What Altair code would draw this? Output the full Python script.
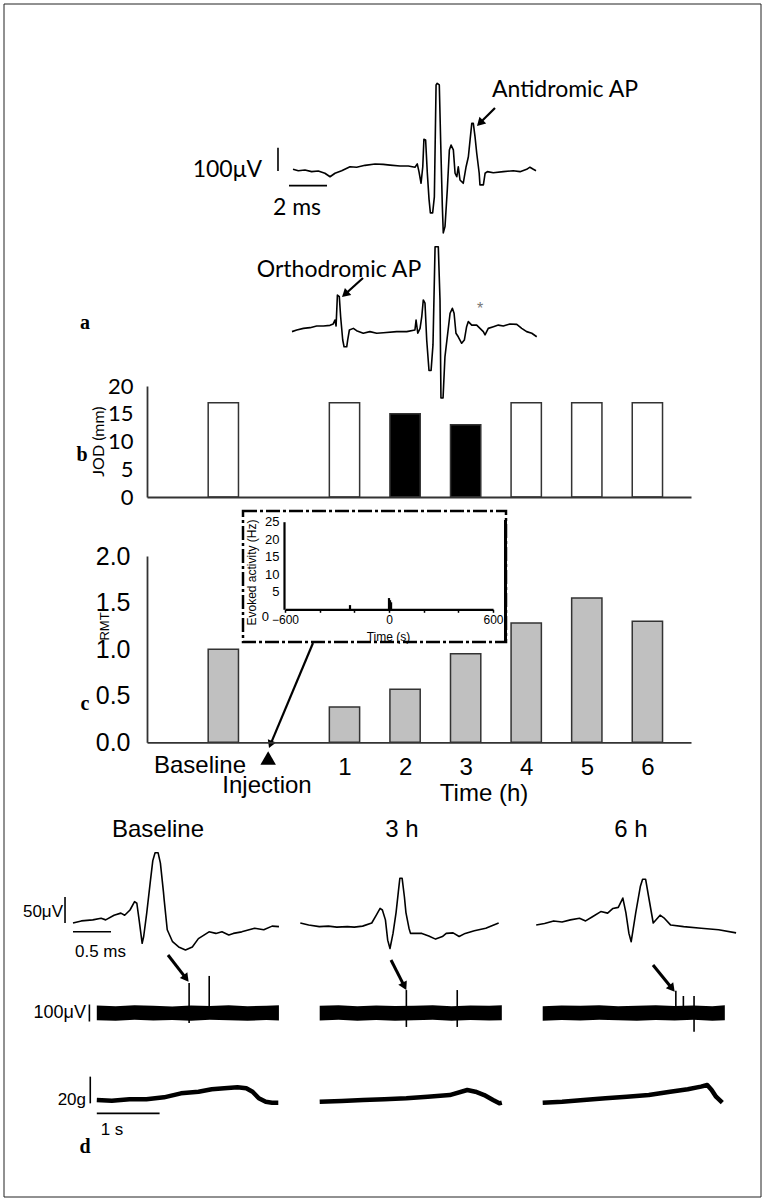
import math
import altair as alt
import pandas as pd

W, H = 765, 1201

# ---------------- panel a : evoked potentials (ms, µV) ----------------
tr1_t = [0.0, 0.28, 0.63, 0.98, 1.33, 1.68, 1.95, 2.21, 2.56, 3.0, 3.35, 3.79, 4.32, 4.75, 5.11,
         5.63, 6.07, 6.42, 6.54, 6.63, 6.74, 6.83, 6.89, 6.98, 7.07, 7.16, 7.23, 7.35, 7.44, 7.53,
         7.59, 7.7, 7.77, 7.86, 7.91, 8.0, 8.12, 8.23, 8.32, 8.44, 8.53, 8.62, 8.7, 8.79, 8.96,
         9.11, 9.23, 9.32, 9.41, 9.49, 9.58, 9.67, 9.8, 9.84, 10.02, 10.11, 10.23, 10.54, 11.07, 11.59,
         11.95, 12.3, 12.47, 12.65, 12.79]
tr1_v = [3, -3, 0, -7, -4, -14, -29, -14, -3, 14, 12, 20, 26, 24, 21,
         17, 17, 12, 26, -7, -57, 14, 132, 129, -14, -126, -184, -184, -115, 365,
         372, 365, 129, -157, -270, -243, -86, 86, 107, 86, -14, -29, 14, -43, -57,
         14, 57, 129, 200, 200, 143, 72, -14, -64, -64, -14, -7, -12, -7, -3,
         -7, 3, 12, 3, -3]
tr2_t = [0, 0.25, 0.6, 0.95, 1.3, 1.65, 2.0, 2.17, 2.26, 2.32, 2.39, 2.49, 2.56, 2.67, 2.74,
         2.88, 2.93, 3.02, 3.23, 3.4, 3.75, 4.1, 4.46, 4.81, 5.51, 6.04, 6.47, 6.53, 6.62, 6.74,
         6.83, 6.91, 7.0, 7.09, 7.21, 7.32, 7.42, 7.53, 7.7, 7.79, 7.84, 7.95, 8.05, 8.32, 8.44,
         8.53, 8.63, 8.75, 8.93, 9.07, 9.19, 9.28, 9.46, 9.72, 10.07, 10.16, 10.33, 10.6, 10.86, 11.12,
         11.47, 11.83, 12.09, 12.35, 12.62, 12.88]
tr2_v = [-7, 0, 7, 10, 17, 17, 20, 26, 43, 17, 150, 143, 57, -43, -72,
         -72, -43, 0, 7, -3, -14, -7, -14, -12, -7, -7, 0, 43, -14, 7,
         57, 129, 115, -43, -174, -174, -64, 357, 357, 129, -292, -292, -115, 72, 93,
         72, -14, -29, -57, -43, 14, 36, 21, 21, -7, -21, 7, 14, 21, 17,
         26, 24, 7, -7, -14, -29]
a_bar_ms = [-0.21, 1.79]      # 2 ms scale bar
a_bar_uv = [-4, 96]           # 100 µV scale bar

# ---------------- panels b, c ----------------
slot_names = ["Baseline", "1", "2", "3", "4", "5", "6"]
slot_pos = [1, 3, 4, 5, 6, 7, 8]
hour_ticks = [3, 4, 5, 6, 7, 8]
jod_mm = [17, 17, 15, 13, 17, 17, 17]
jod_group = ["unchanged", "unchanged", "reduced", "reduced", "unchanged", "unchanged", "unchanged"]
rmt = [1.0, 0.38, 0.57, 0.95, 1.28, 1.55, 1.3]
injection_pos = [1.74]

# inset : evoked activity (Hz) vs time (s)
inset_t = [-225, 0, 6, 12]
inset_hz = [1.2, 3.2, 2.6, 2.0]

# ---------------- panel d ----------------
apB_t = [0, 0.11, 0.26, 0.37, 0.43, 0.54, 0.63, 0.68, 0.75, 0.81, 0.84, 0.87, 0.91, 0.93, 0.97,
         1.02, 1.05, 1.08, 1.12, 1.15, 1.19, 1.2, 1.24, 1.31, 1.39, 1.48, 1.57, 1.65, 1.79, 1.88,
         1.96, 2.05, 2.11, 2.22, 2.39, 2.51, 2.62, 2.71]
apB_v = [0, 4, 6, 9, 6, 15, 19, 15, 25, 41, 38, 6, -39, -26, 19,
         83, 120, 135, 135, 115, 60, 44, -13, -36, -46, -52, -46, -30, -17, -20,
         -17, -23, -20, -17, -10, -13, -6, -7]
ap3_t = [0, 0.11, 0.25, 0.37, 0.48, 0.62, 0.71, 0.82, 0.94, 1.0, 1.05, 1.08, 1.12, 1.15, 1.18,
         1.22, 1.26, 1.29, 1.31, 1.34, 1.37, 1.39, 1.43, 1.45, 1.5, 1.6, 1.69, 1.78, 1.87, 1.92,
         2.01, 2.09, 2.17, 2.29, 2.44, 2.61]
ap3_v = [0, -4, -7, -6, -8, -7, -8, -6, 0, 15, 28, 25, 6, -33, -49,
         -20, 20, 60, 86, 86, 50, 20, -10, -20, -20, -20, -25, -31, -26, -20,
         -19, -26, -20, -15, -10, 0]
ap6_t = [0, 0.11, 0.23, 0.34, 0.45, 0.57, 0.65, 0.74, 0.85, 0.94, 1.01, 1.08, 1.14, 1.18, 1.22,
         1.25, 1.31, 1.37, 1.4, 1.44, 1.48, 1.54, 1.63, 1.68, 1.77, 1.94, 2.17, 2.4, 2.63]
ap6_v = [-4, -1, 4, 2, 6, 9, 4, 12, 22, 19, 28, 30, 48, 20, -20,
         -36, 20, 70, 84, 84, 50, 0, 15, 10, -4, -7, -10, -13, -19]
ap_bar_ms = [0, 0.5]
ap_bar_uv = [0, 50]

band_t = [0, 0.3, 0.6, 0.9, 1.2, 1.5, 1.8, 2.1, 2.4, 2.7, 2.9]
bandB_hi = [44, 40, 45, 42, 38, 44, 41, 46, 40, 43, 45]
bandB_lo = [-42, -46, -40, -44, -41, -45, -40, -43, -46, -41, -44]
band3_hi = [42, 45, 40, 44, 41, 43, 46, 40, 44, 42, 45]
band3_lo = [-44, -40, -45, -41, -46, -42, -40, -45, -41, -44, -42]
band6_hi = [40, 44, 42, 46, 40, 43, 45, 41, 44, 40, 46]
band6_lo = [-45, -41, -44, -40, -43, -46, -41, -44, -40, -45, -43]
spkB_t, spkB_hi, spkB_lo = [1.47, 1.79], [176, 218], [-59, 0]
spk3_t, spk3_hi, spk3_lo = [1.38, 2.19], [135, 135], [-82, -82]
spk6_t, spk6_hi, spk6_lo = [2.12, 2.24, 2.41], [131, 100, 100], [0, -22, -110]
emg_bar_uv = [-50, 50]

frcB_t = [0, 0.24, 0.52, 0.79, 1.07, 1.34, 1.62, 1.83, 2.03, 2.24, 2.38, 2.48, 2.58, 2.69, 2.79, 2.89]
frcB_g = [0, -0.5, 0.5, 0.5, 2, 5, 6.2, 8, 8.8, 9.5, 8.8, 6.2, 1.3, -1.3, -2, -2]
frc3_t = [0, 0.35, 0.69, 1.03, 1.38, 1.72, 2.07, 2.35, 2.48, 2.62, 2.76, 2.86, 2.9]
frc3_g = [-1.3, -0.7, 0, 0.5, 1.3, 2.5, 3.7, 7.5, 6.2, 3.7, 0, -2.5, -2]
frc6_t = [0, 0.31, 0.65, 1.0, 1.34, 1.69, 2.03, 2.31, 2.52, 2.62, 2.69, 2.76, 2.86]
frc6_g = [-2, -1.3, 0, 1.3, 2.5, 3.7, 6.2, 8, 10, 11.2, 7.5, 2.5, -2]
frc_bar_g = [-2.5, 17.5]
frc_bar_s = [0, 1]

# ---------------- helpers ----------------
one = pd.DataFrame({"k": [0]})
SANS = "Liberation Sans"
HUM = "Lato"
SERIF = "Liberation Serif"


def S(dom, rng):
    return alt.Scale(domain=list(dom), range=list(rng), nice=False, zero=False)


def line(t, v, xs, ys, w=1.3):
    df = pd.DataFrame({"t": t, "v": v, "i": list(range(len(t)))})
    return alt.Chart(df).mark_line(color="black", strokeWidth=w, strokeJoin="round").encode(
        x=alt.X("t:Q", scale=xs, axis=None),
        y=alt.Y("v:Q", scale=ys, axis=None),
        order=alt.Order("i:Q"))


def seg(x1, x2, y1, y2, xs, ys, w=1.5):
    df = pd.DataFrame({"a": [x1], "b": [x2], "c": [y1], "d": [y2]})
    return alt.Chart(df).mark_rule(color="black", strokeWidth=w).encode(
        x=alt.X("a:Q", scale=xs, axis=None), x2="b:Q",
        y=alt.Y("c:Q", scale=ys, axis=None), y2="d:Q")


def band(t, hi, lo, xs, ys):
    df = pd.DataFrame({"t": t, "hi": hi, "lo": lo})
    return alt.Chart(df).mark_area(color="black", interpolate="linear").encode(
        x=alt.X("t:Q", scale=xs, axis=None),
        y=alt.Y("hi:Q", scale=ys, axis=None), y2="lo:Q")


def spikes(t, hi, lo, xs, ys):
    df = pd.DataFrame({"t": t, "hi": hi, "lo": lo})
    return alt.Chart(df).mark_rule(color="black", strokeWidth=1.6).encode(
        x=alt.X("t:Q", scale=xs, axis=None),
        y=alt.Y("hi:Q", scale=ys, axis=None), y2="lo:Q")


def txt(s, x, y, size, font=SANS, align="center", weight="normal", color="black", angle=None):
    kw = dict(text=s, font=font, fontSize=size, align=align, baseline="middle",
              fontWeight=weight, color=color)
    if angle is not None:
        kw["angle"] = angle
    return alt.Chart(one).mark_text(**kw).encode(x=alt.value(x), y=alt.value(y))


def arrow(x1, y1, x2, y2, w=2.2, size=90):
    ang = (math.degrees(math.atan2(x2 - x1, -(y2 - y1))) + 360) % 360
    L_ = math.hypot(x2 - x1, y2 - y1)
    ux, uy = (x2 - x1) / L_, (y2 - y1) / L_
    h = 0.433 * math.sqrt(size)
    cx, cy = x2 - ux * h, y2 - uy * h
    shaft = alt.Chart(one).mark_rule(color="black", strokeWidth=w).encode(
        x=alt.value(x1), y=alt.value(y1), x2=alt.value(cx), y2=alt.value(cy))
    head = alt.Chart(one).mark_point(shape="triangle-up", filled=True, color="black",
                                     size=size, angle=round(ang, 1), opacity=1).encode(
        x=alt.value(cx), y=alt.value(cy))
    return [shaft, head]


L = []

# frame
L.append(alt.Chart(one).mark_rect(fillOpacity=0, stroke="#222", strokeWidth=1).encode(
    x=alt.value(4), x2=alt.value(761), y=alt.value(4), y2=alt.value(1197)))

# ---------------- panel a ----------------
ax1, ay1 = S([0, 10], [293, 483]), S([0, 100], [170, 146.7])
ax2, ay2 = S([0, 10], [292, 482]), S([0, 100], [330, 306.7])
L.append(line(tr1_t, tr1_v, ax1, ay1, 1.6))
L.append(line(tr2_t, tr2_v, ax2, ay2, 1.6))
L.append(seg(a_bar_ms[0], a_bar_ms[1], -67, -67, ax1, ay1, 1.6))
L.append(seg(-0.79, -0.79, a_bar_uv[0], a_bar_uv[1], ax1, ay1, 1.6))
L.append(txt("100μV", 262, 170, 23, HUM, "right"))
L.append(txt("2 ms", 297, 208, 23, HUM))
L.append(txt("Antidromic AP", 492, 90, 23, HUM, "left"))
L.append(txt("Orthodromic AP", 339, 270, 23, HUM))
L.append(txt("*", 480, 309, 16, SANS, color="#777"))
L += arrow(495, 108, 477, 126)
L += arrow(363, 278, 342, 297)
L.append(txt("a", 85, 323, 20, SERIF, weight="bold"))

# ---------------- panel b ----------------
bx = S([-0.26, 8.72], [147, 691])
by = S([0, 20], [497, 386])
bdf = pd.DataFrame({"pos": slot_pos, "jod": jod_mm, "grp": jod_group})
L.append(alt.Chart(bdf).transform_calculate(lo="datum.pos - 0.25", hi="datum.pos + 0.25")
         .mark_bar(stroke="#333", strokeWidth=1.5).encode(
    x=alt.X("lo:Q", scale=bx, axis=alt.Axis(orient="bottom", offset=-(H - 497), labels=False,
                                             ticks=False, grid=False, title=None, zindex=1,
                                             domainColor="#333", domainWidth=1.8)),
    x2="hi:Q",
    y=alt.Y("jod:Q", scale=by, axis=alt.Axis(
        orient="left", offset=-147, values=[0, 5, 10, 15, 20], ticks=False, grid=False,
        zindex=1, labelFont=HUM, labelFontSize=22, labelColor="black", labelPadding=14,
        domainColor="#333", domainWidth=1.8, title="JOD (mm)", titleFont=HUM,
        titleFontSize=16, titleFontWeight="normal", titleColor="black",
        titleX=-49, titleY=441, titleBaseline="middle", titleAngle=270)),
    y2=alt.Y2(datum=0),
    fill=alt.Fill("grp:N", scale=alt.Scale(domain=["unchanged", "reduced"],
                                           range=["white", "black"]), legend=None)))
L.append(txt("b", 82, 455, 20, SERIF, weight="bold"))

# ---------------- panel c ----------------
cx_ = S([-0.26, 8.72], [147, 691])
cy_ = S([0, 2], [742.3, 556])
cdf = pd.DataFrame({"pos": slot_pos, "rmt": rmt})
L.append(alt.Chart(cdf).transform_calculate(lo="datum.pos - 0.25", hi="datum.pos + 0.25")
         .mark_bar(fill="#c0c0c0", stroke="#333", strokeWidth=1.5).encode(
    x=alt.X("lo:Q", scale=cx_, axis=alt.Axis(
        orient="bottom", offset=-(H - 742.3), values=hour_ticks,
        labelExpr="'' + (datum.value - 2)", ticks=False, grid=False, title=None, zindex=1,
        labelFont=SANS, labelFontSize=24, labelColor="black", labelPadding=13,
        labelFlush=False, labelOverlap=False, domainColor="#333", domainWidth=1.8)),
    x2="hi:Q",
    y=alt.Y("rmt:Q", scale=cy_, axis=alt.Axis(
        orient="left", offset=-147, values=[0, 0.5, 1, 1.5, 2], format=".1f", ticks=False,
        grid=False, zindex=1, labelFont=SANS, labelFontSize=25, labelColor="black",
        labelPadding=17, domainColor="#333", domainWidth=1.8, title="RMT", titleFont=SANS,
        titleFontSize=13, titleFontWeight="normal", titleColor="black", titleX=-43,
        titleY=626, titleBaseline="middle", titleAngle=270)),
    y2=alt.Y2(datum=0)))
L.append(txt("Baseline", 200, 766, 24, SANS))
L.append(txt("Injection", 267, 786, 24, SANS))
L.append(txt("Time (h)", 484, 794, 24, SANS))
idf_inj = pd.DataFrame({"pos": injection_pos})
L.append(alt.Chart(idf_inj).mark_point(shape="triangle-up", filled=True, color="black",
                                        size=240, opacity=1).encode(
    x=alt.X("pos:Q", scale=cx_, axis=None), y=alt.value(758)))
L.append(txt("c", 85, 704, 20, SERIF, weight="bold"))

# inset
L.append(alt.Chart(one).mark_rect(fill="white", stroke="black", strokeWidth=2.5,
                                  strokeDash=[14, 3, 3, 3]).encode(
    x=alt.value(243), x2=alt.value(506), y=alt.value(511), y2=alt.value(642)))
L.append(alt.Chart(one).mark_rule(color="black", strokeWidth=3).encode(
    x=alt.value(505.5), y=alt.value(520), y2=alt.value(642)))
ix = S([-600, 600], [285, 493])
iy = S([0, 25], [609.3, 521.7])
idf = pd.DataFrame({"t": inset_t, "hz": inset_hz})
L.append(alt.Chart(idf).mark_rule(color="black", strokeWidth=2.2).encode(
    x=alt.X("t:Q", scale=ix, axis=alt.Axis(
        orient="bottom", offset=-(H - 609.3), values=[-600, -400, -200, 0, 200, 400, 600],
        labelExpr="(abs(datum.value) == 600 || datum.value == 0) ? datum.label : ''",
        ticks=True, tickSize=3, tickColor="black", tickWidth=1.5, grid=False, zindex=2,
        labelFont=SANS, labelFontSize=12, labelColor="black", labelPadding=2,
        labelFlush=False, labelOverlap=False, domainColor="black", domainWidth=2.2,
        title="Time (s)", titleFont=SANS, titleFontSize=12, titleFontWeight="normal",
        titleColor="black", titleX=388, titleY=27, titleBaseline="middle")),
    y=alt.Y("hz:Q", scale=iy, axis=alt.Axis(
        orient="left", offset=-284, values=[5, 10, 15, 20, 25], ticks=False, grid=False,
        zindex=2, labelFont=SANS, labelFontSize=13, labelColor="black", labelPadding=5,
        domainColor="black", domainWidth=2.2, title="Evoked activity (Hz)", titleFont=SANS,
        titleFontSize=12, titleFontWeight="normal", titleColor="black", titleX=-33,
        titleY=572, titleBaseline="middle", titleAngle=270)),
    y2=alt.Y2(datum=0)))
L.append(txt("0", 269, 617, 13, SANS, "right"))
L += arrow(313, 643, 269, 748, w=2.2, size=80)

# ---------------- panel d ----------------
L.append(txt("Baseline", 158, 830, 24, SANS))
L.append(txt("3 h", 402, 830, 24, SANS))
L.append(txt("6 h", 631, 830, 24, SANS))

apy = S([0, 100], [923, 871])
apxB, apx3, apx6 = S([0, 1], [73, 149]), S([0, 1], [300.3, 376.3]), S([0, 1], [536.2, 612.2])
L.append(line(apB_t, apB_v, apxB, apy, 1.6))
L.append(line(ap3_t, ap3_v, apx3, apy, 1.6))
L.append(line(ap6_t, ap6_v, apx6, apy, 1.6))
L.append(seg(ap_bar_ms[0], ap_bar_ms[1], -16.7, -16.7, apxB, apy, 1.6))
L.append(seg(-0.105, -0.105, ap_bar_uv[0], ap_bar_uv[1], apxB, apy, 1.6))
L.append(txt("50μV", 63, 912, 17, SANS, "right"))
L.append(txt("0.5 ms", 75, 952, 17, SANS, "left"))

ey = S([0, 100], [1013, 996])
exB, ex3, ex6 = S([0, 1], [96.8, 159.6]), S([0, 1], [319.7, 382.5]), S([0, 1], [542.7, 605.5])
L.append(band(band_t, bandB_hi, bandB_lo, exB, ey))
L.append(band(band_t, band3_hi, band3_lo, ex3, ey))
L.append(band(band_t, band6_hi, band6_lo, ex6, ey))
L.append(spikes(spkB_t, spkB_hi, spkB_lo, exB, ey))
L.append(spikes(spk3_t, spk3_hi, spk3_lo, ex3, ey))
L.append(spikes(spk6_t, spk6_hi, spk6_lo, ex6, ey))
L.append(seg(-0.118, -0.118, emg_bar_uv[0], emg_bar_uv[1], exB, ey, 1.6))
L.append(txt("100μV", 86, 1013, 18, SANS, "right"))
L += arrow(168, 955, 188.6, 981.7, w=3, size=90)
L += arrow(391, 960, 406.3, 990, w=3, size=90)
L += arrow(653, 965, 674.7, 991.7, w=3, size=90)

fy = S([0, 20], [1100, 1073.3])
L.append(line(frcB_t, frcB_g, exB, fy, 4.5))
L.append(line(frc3_t, frc3_g, ex3, fy, 4.5))
L.append(line(frc6_t, frc6_g, ex6, fy, 4.5))
L.append(seg(-0.104, -0.104, frc_bar_g[0], frc_bar_g[1], exB, fy, 1.6))
L.append(seg(frc_bar_s[0], frc_bar_s[1], -10, -10, exB, fy, 1.6))
L.append(txt("20g", 86, 1100, 17, SANS, "right"))
L.append(txt("1 s", 112, 1130, 17, SANS))
L.append(txt("d", 85, 1147, 20, SERIF, weight="bold"))

chart = alt.layer(*L).resolve_scale(x="independent", y="independent").properties(
    width=W, height=H, autosize=alt.AutoSizeParams(type="none"), padding=0,
    background="white").configure_view(stroke=None)

chart.save("out.html", embed_options={"renderer": "svg", "actions": False})
